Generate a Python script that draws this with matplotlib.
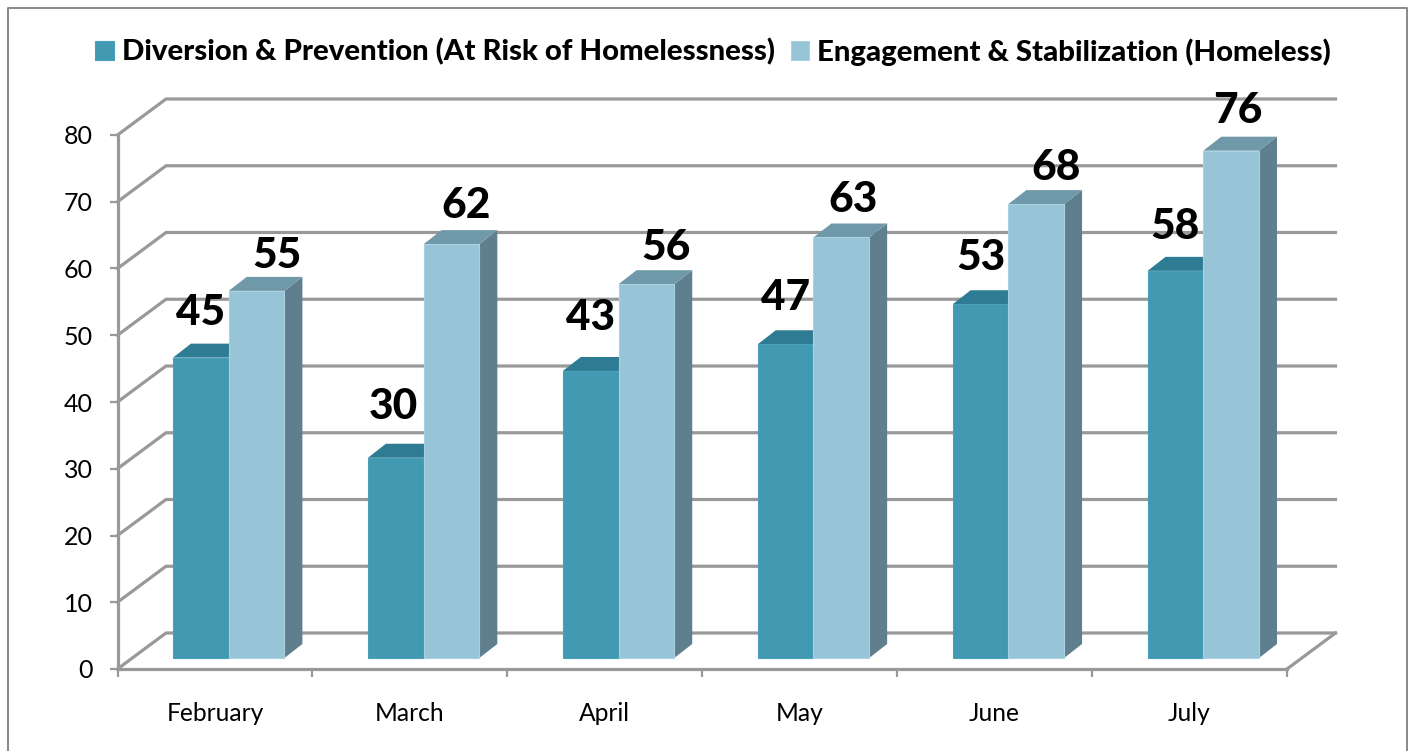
import matplotlib
matplotlib.use('Agg')
import matplotlib.pyplot as plt
from matplotlib.lines import Line2D
from matplotlib.patches import Polygon
import numpy as np

months = ['February', 'March', 'April', 'May', 'June', 'July']
diversion = [45, 30, 43, 47, 53, 58]
engagement = [55, 62, 56, 63, 68, 76]
series_names = ['Diversion & Prevention (At Risk of Homelessness)',
                'Engagement & Stabilization (Homeless)']

plt.rcParams['font.family'] = ['Lato', 'DejaVu Sans']

W, H = 1413, 751
fig = plt.figure(figsize=(W / 100, H / 100), dpi=100)
ax = fig.add_axes([117.5 / W, (H - 669) / H, (1287 - 117.5) / W, (669 - 135) / H])
ax.set_xlim(0, 6)
ax.set_ylim(0, 80)

# px -> data units, for the fake 3d depth
ux = 6 / (1287 - 117.5)
uy = 80 / (669 - 135)
wall_dx, wall_dy = 48.5 * ux, 36 * uy
depth_dx, depth_dy = 18 * ux, 14 * uy
floor = 11 * uy
bar_w = 55.7 * ux
bar_start = 55.5 * ux

grid_col = '#999999'
grid_lw = 2.3

# back wall and the slanted side wall
for v in range(0, 90, 10):
    ax.plot([0, wall_dx, 6 + wall_dx], [v, v + wall_dy, v + wall_dy],
            color=grid_col, lw=grid_lw, clip_on=False, zorder=1,
            solid_joinstyle='miter')
ax.plot([6, 6 + wall_dx], [0, wall_dy], color=grid_col, lw=grid_lw, clip_on=False, zorder=1)

colors1 = dict(front='#4299B2', top='#2E7C93', side='#2E6F84')
colors2 = dict(front='#97C4D6', top='#6F98A8', side='#5F7F8F')


def draw_series(xs, vals, c, edge, label):
    bars = ax.bar(xs, vals, bar_w, bottom=floor, align='edge', color=c['front'],
                  edgecolor=edge, linewidth=0.8, label=label, zorder=3, clip_on=False)
    for x, v in zip(xs, vals):
        y = floor + v
        top = [(x, y), (x + depth_dx, y + depth_dy),
               (x + bar_w + depth_dx, y + depth_dy), (x + bar_w, y)]
        side = [(x + bar_w, floor), (x + bar_w + depth_dx, floor + depth_dy),
                (x + bar_w + depth_dx, y + depth_dy), (x + bar_w, y)]
        ax.add_patch(Polygon(side, closed=True, fc=c['side'], ec='none', zorder=2, clip_on=False))
        ax.add_patch(Polygon(top, closed=True, fc=c['top'], ec='none', zorder=2, clip_on=False))
    return bars


x0 = np.arange(len(months)) + bar_start
draw_series(x0, diversion, colors1, '#4AA0B8', series_names[0])
draw_series(x0 + bar_w, engagement, colors2, '#A9D2E2', series_names[1])

# data labels were hand placed in the original (offsets in px from bar top centre)
off1 = [(0, 45), (-2, 51), (0, 53), (0, 46), (0, 46), (0, 44)]
off2 = [(20, 35), (15, 38), (20, 36), (12, 37), (20, 36), (7, 40)]
for i in range(len(months)):
    ax.annotate(str(diversion[i]), (x0[i] + bar_w / 2, floor + diversion[i]),
                xytext=(off1[i][0] * 0.72, off1[i][1] * 0.72), textcoords='offset points',
                ha='center', va='center', fontsize=30.5, fontweight=900, color='black',
                zorder=6, annotation_clip=False)
    ax.annotate(str(engagement[i]), (x0[i] + 1.5 * bar_w, floor + engagement[i]),
                xytext=(off2[i][0] * 0.72, off2[i][1] * 0.72), textcoords='offset points',
                ha='center', va='center', fontsize=30.5, fontweight=900, color='black',
                zorder=6, annotation_clip=False)

for s in ['top', 'right']:
    ax.spines[s].set_visible(False)
for s in ['left', 'bottom']:
    ax.spines[s].set_color(grid_col)
    ax.spines[s].set_linewidth(grid_lw)
    ax.spines[s].set_zorder(1)
ax.patch.set_alpha(0)

ax.set_yticks(range(0, 90, 10))
ax.set_xticks(range(7))
ax.set_xticklabels([])
ax.set_xticks(np.arange(6) + 0.5, months, minor=True)
ax.tick_params(axis='y', length=6, width=1.6, color=grid_col, labelsize=18, pad=12)
ax.tick_params(axis='x', which='major', length=6, width=1.6, color=grid_col)
ax.tick_params(axis='x', which='minor', length=0, labelsize=17.7, pad=24)

leg = fig.legend(loc='center', bbox_to_anchor=(713 / W, 1 - 52 / H), ncol=2, frameon=False,
                 prop=dict(size=21.2, weight=900), handlelength=0.62, handleheight=0.62,
                 handletextpad=0.27, columnspacing=0.55, borderpad=0, borderaxespad=0)

# outer chart border (bottom edge is cut off in the source)
fig.add_artist(Line2D([8 / W, 8 / W, 1407 / W, 1407 / W], [0, 1 - 8 / H, 1 - 8 / H, 0],
                      color='#888888', lw=1.4, transform=fig.transFigure))

fig.savefig('out.png', dpi=100)
